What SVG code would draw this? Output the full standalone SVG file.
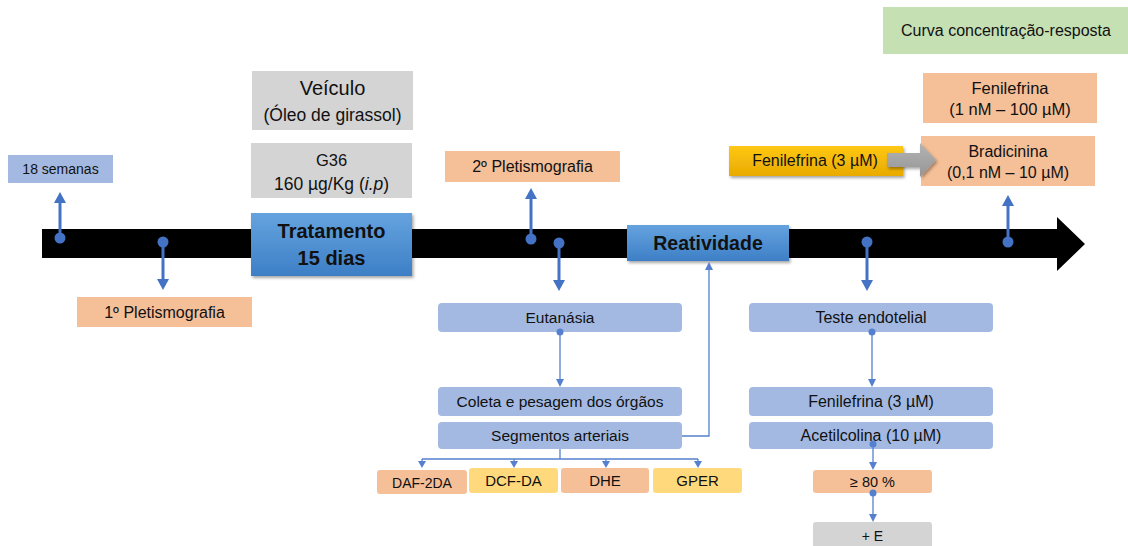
<svg xmlns="http://www.w3.org/2000/svg" width="1128" height="546" viewBox="0 0 1128 546">
<defs>
<linearGradient id="gBlue" x1="0" y1="0" x2="0" y2="1"><stop offset="0" stop-color="#65a3df"/><stop offset="1" stop-color="#3d7fc6"/></linearGradient>
<linearGradient id="gGold" x1="0" y1="0" x2="0" y2="1"><stop offset="0" stop-color="#ffc814"/><stop offset="1" stop-color="#e8aa00"/></linearGradient>
<linearGradient id="gGray" x1="0" y1="0" x2="0" y2="1"><stop offset="0" stop-color="#b4b4b4"/><stop offset="1" stop-color="#959595"/></linearGradient>
<filter id="sh" x="-10%" y="-20%" width="125%" height="150%"><feDropShadow dx="1.5" dy="2" stdDeviation="1.5" flood-color="#000" flood-opacity="0.35"/></filter>
</defs>
<style>
text{font-family:"Liberation Sans",Arial,sans-serif;fill:#111;text-anchor:middle}
.t14{font-size:14px}
.t15{font-size:15.5px}
.t16{font-size:16px}
.b{font-weight:bold;font-size:20px}
.salmon{fill:#f5bf98}
.lblue{fill:#a3b9e2}
.gray{fill:#d4d4d4}
.yel{fill:#ffd97c}
.thick{stroke:#4472c4;stroke-width:3;fill:none}
.thin{stroke:#5580cf;stroke-width:1.3;fill:none}
.ah{fill:#4472c4}
.ahs{fill:#5580cf}
</style>

<!-- timeline -->
<g id="timeline">
<polygon points="42,229 1057,229 1057,217 1085,244 1057,271 1057,258 42,258" fill="#000"/>
</g>

<g id="n18semanas"><rect x="8" y="155" width="105" height="28" class="lblue"/><text x="60.5" y="174" class="t14">18 semanas</text></g>
<g id="n1pleti"><rect x="77" y="297" width="175" height="30" class="salmon"/><text x="164.5" y="318" class="t16">1º Pletismografia</text></g>
<g id="nveiculo"><rect x="252" y="71" width="161" height="59" class="gray"/><text x="332.5" y="95" style="font-size:20px">Veículo</text><text x="332.5" y="121" style="font-size:17.5px">(Óleo de girassol)</text></g>
<g id="ng36"><rect x="251" y="143" width="161" height="55" class="gray"/><text x="331.5" y="166" style="font-size:16.5px">G36</text><text x="331.5" y="190" style="font-size:17.5px">160 µg/Kg (<tspan font-style="italic">i.p</tspan>)</text></g>
<g id="ntrat"><rect x="251" y="213" width="161" height="63" fill="url(#gBlue)" filter="url(#sh)"/><text x="331.5" y="238" class="b">Tratamento</text><text x="331.5" y="265" class="b">15 dias</text></g>
<g id="n2pleti"><rect x="445" y="151" width="175" height="31" class="salmon"/><text x="532.5" y="172" class="t16">2º Pletismografia</text></g>
<g id="nreat"><rect x="627" y="225" width="162" height="36" fill="url(#gBlue)" filter="url(#sh)"/><text x="708" y="250" class="b" style="font-size:19.5px">Reatividade</text></g>
<g id="neuta"><rect x="438" y="303" width="244" height="29" rx="4" class="lblue"/><text x="560" y="323" class="t15">Eutanásia</text></g>
<g id="ncoleta"><rect x="438" y="387" width="244" height="29" rx="4" class="lblue"/><text x="560" y="407" class="t15">Coleta e pesagem dos órgãos</text></g>
<g id="nseg"><rect x="438" y="422" width="244" height="27" rx="4" class="lblue"/><text x="560" y="441" class="t15">Segmentos arteriais</text></g>
<g id="ndaf"><rect x="377" y="470" width="90" height="24" rx="3" class="salmon"/><text x="422" y="488" class="t14">DAF-2DA</text></g>
<g id="ndcf"><rect x="469" y="468" width="89" height="25" rx="3" class="yel"/><text x="513.5" y="486" style="font-size:15px">DCF-DA</text></g>
<g id="ndhe"><rect x="561" y="468" width="88" height="25" rx="3" class="salmon"/><text x="605" y="486" style="font-size:15px">DHE</text></g>
<g id="ngper"><rect x="653" y="468" width="89" height="25" rx="3" class="yel"/><text x="697.5" y="486" style="font-size:15px">GPER</text></g>
<g id="nteste"><rect x="749" y="303" width="244" height="29" rx="4" class="lblue"/><text x="871" y="323" class="t16">Teste endotelial</text></g>
<g id="nfen3"><rect x="749" y="387" width="244" height="29" rx="4" class="lblue"/><text x="871" y="407" class="t16">Fenilefrina (3 µM)</text></g>
<g id="nacet"><rect x="749" y="422" width="244" height="27" rx="4" class="lblue"/><text x="871" y="441" class="t16">Acetilcolina (10 µM)</text></g>
<g id="n80"><rect x="813" y="470" width="119" height="23" rx="3" class="salmon"/><text x="872.5" y="487" style="font-size:14.5px">≥ 80 %</text></g>
<g id="nE"><rect x="813" y="522" width="119" height="30" rx="3" class="gray"/><text x="872.5" y="541" class="t14">+ E</text></g>
<g id="nfenGold"><rect x="729" y="146" width="174" height="30" fill="url(#gGold)" filter="url(#sh)"/><text x="815" y="166" class="t16">Fenilefrina (3 µM)</text></g>
<g id="nbradi"><rect x="921" y="136" width="174" height="50" class="salmon"/><text x="1008" y="157" class="t16">Bradicinina</text><text x="1008" y="178" class="t16">(0,1 nM – 10 µM)</text></g>
<g id="nfenRange"><rect x="923" y="73" width="174" height="50" class="salmon"/><text x="1010" y="94" style="font-size:16.5px">Fenilefrina</text><text x="1010" y="115" style="font-size:16.5px">(1 nM – 100 µM)</text></g>
<g id="ncurva"><rect x="883" y="7" width="245" height="47" fill="#c5e0b3"/><text x="1006" y="36" class="t16">Curva concentração-resposta</text></g>

<g id="connectors">
<!-- thick timeline markers -->
<line class="thick" x1="60" y1="238" x2="60" y2="200"/><circle cx="60" cy="238" r="5.5" class="ah"/><polygon class="ah" points="60,192 54,203 66,203"/>
<line class="thick" x1="163" y1="242" x2="163" y2="282"/><circle cx="163" cy="242" r="5.5" class="ah"/><polygon class="ah" points="163,290 157,279 169,279"/>
<line class="thick" x1="531" y1="239" x2="531" y2="196"/><circle cx="531" cy="239" r="5.5" class="ah"/><polygon class="ah" points="531,188 525,199 537,199"/>
<line class="thick" x1="559" y1="243" x2="559" y2="283"/><circle cx="559" cy="243" r="5.5" class="ah"/><polygon class="ah" points="559,291 553,280 565,280"/>
<line class="thick" x1="867" y1="242" x2="867" y2="283"/><circle cx="867" cy="242" r="5.5" class="ah"/><polygon class="ah" points="867,291 861,280 873,280"/>
<line class="thick" x1="1008" y1="242" x2="1008" y2="203"/><circle cx="1008" cy="242" r="5.5" class="ah"/><polygon class="ah" points="1008,195 1002,206 1014,206"/>
<!-- thin -->
<line class="thin" x1="560" y1="332" x2="560" y2="381"/><circle cx="560" cy="332" r="3.5" class="ahs"/><polygon class="ahs" points="560,387 556,379 564,379"/>
<path class="thin" d="M682,436 H709 V268"/><polygon class="ahs" points="709,262 705,270 713,270"/>
<path class="thin" d="M560,449 V459 M422,459 H698 M422,459 V463 M514,459 V463 M606,459 V463 M698,459 V463"/>
<polygon class="ahs" points="422,468 418,461 426,461"/>
<polygon class="ahs" points="514,468 510,461 518,461"/>
<polygon class="ahs" points="606,468 602,461 610,461"/>
<polygon class="ahs" points="698,468 694,461 702,461"/>
<line class="thin" x1="872" y1="332" x2="872" y2="381"/><circle cx="872" cy="332" r="3.5" class="ahs"/><polygon class="ahs" points="872,387 868,379 876,379"/>
<line class="thin" x1="873" y1="444" x2="873" y2="464"/><circle cx="873" cy="444" r="3.5" class="ahs"/><polygon class="ahs" points="873,470 869,462 877,462"/>
<line class="thin" x1="873" y1="493" x2="873" y2="516"/><circle cx="873" cy="493" r="3.5" class="ahs"/><polygon class="ahs" points="873,522 869,514 877,514"/>
<!-- gray block arrow -->
<polygon points="887,153 920,153 920,143 936,160 920,177 920,167 887,167" fill="url(#gGray)" filter="url(#sh)"/>
</g>
</svg>
